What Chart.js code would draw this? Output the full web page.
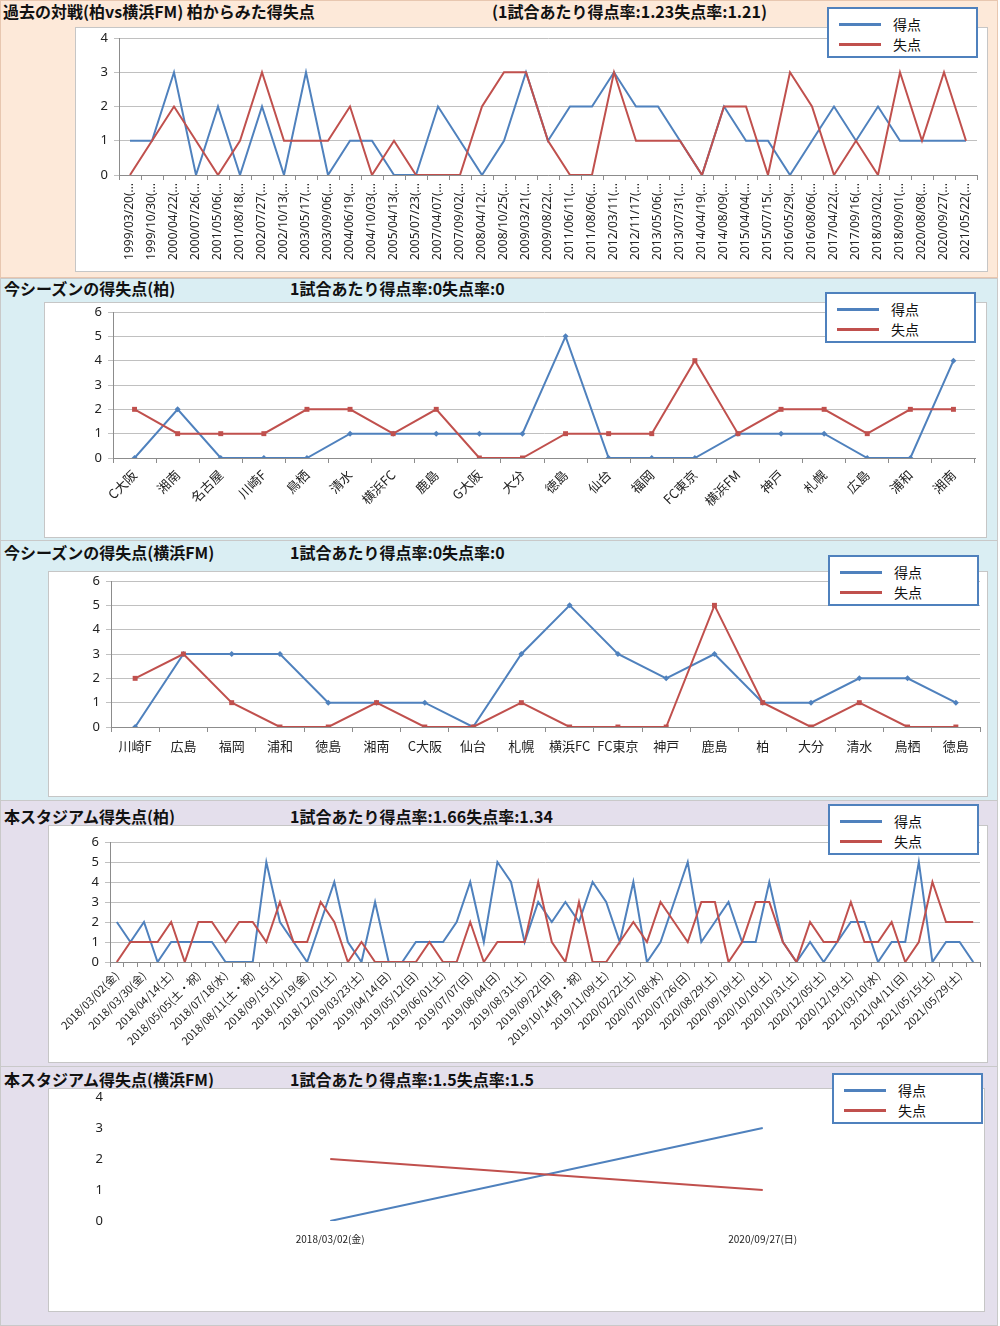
<!DOCTYPE html>
<html>
<head>
<meta charset="utf-8">
<script src="https://cdn.jsdelivr.net/npm/chart.js@4.4.1/dist/chart.umd.min.js"></script>
<style>
  html, body { margin: 0; padding: 0; }
  body { width: 1000px; height: 1326px; position: relative; overflow: hidden; background: #fff;
         font-family: "Noto Sans CJK JP", "Noto Sans", sans-serif; }
  .sec { position: absolute; left: 0; width: 998px; border: 1px solid #c9c9c9; box-sizing: border-box; }
  .ttl { position: absolute; font-weight: bold; font-size: 16px; color: #111; white-space: nowrap; line-height: 18px; }
  .box { position: absolute; background: #fff; border: 1px solid #c6c6c6; box-sizing: border-box; }
  canvas { position: absolute; }
  .legend { position: absolute; background: #fff; border: 2px solid #4f81bd; box-sizing: border-box; }
  .legend .sw { position: absolute; left: 10px; width: 42px; height: 3px; }
  .legend .tx { position: absolute; left: 64px; font-size: 14px; line-height: 16px; color: #111; }
</style>
</head>
<body>

<div class="sec" style="top:0;height:278px;background:#fde9d9;border-color:#e8c7b0"></div>
<div class="sec" style="top:278px;height:263px;background:#daeef3"></div>
<div class="sec" style="top:540px;height:261px;background:#daeef3"></div>
<div class="sec" style="top:800px;height:267px;background:#e4dfec"></div>
<div class="sec" style="top:1066px;height:260px;background:#e4dfec"></div>

<div class="ttl" style="left:3px;top:2px;">過去の対戦(柏vs横浜FM) 柏からみた得失点</div>
<div class="ttl" style="left:492px;top:2px;">(1試合あたり得点率:1.23失点率:1.21)</div>
<div class="ttl" style="left:4px;top:279px;">今シーズンの得失点(柏)</div>
<div class="ttl" style="left:290px;top:279px;">1試合あたり得点率:0失点率:0</div>
<div class="ttl" style="left:4px;top:543px;">今シーズンの得失点(横浜FM)</div>
<div class="ttl" style="left:290px;top:543px;">1試合あたり得点率:0失点率:0</div>
<div class="ttl" style="left:4px;top:807px;">本スタジアム得失点(柏)</div>
<div class="ttl" style="left:290px;top:807px;">1試合あたり得点率:1.66失点率:1.34</div>
<div class="ttl" style="left:4px;top:1070px;">本スタジアム得失点(横浜FM)</div>
<div class="ttl" style="left:290px;top:1070px;">1試合あたり得点率:1.5失点率:1.5</div>

<div class="box" style="left:75px;top:27px;width:913px;height:245px"></div>
<div class="box" style="left:44px;top:302px;width:943px;height:236px"></div>
<div class="box" style="left:48px;top:571px;width:940px;height:226px"></div>
<div class="box" style="left:48px;top:825px;width:940px;height:238px"></div>
<div class="box" style="left:48px;top:1088px;width:937px;height:224px"></div>

<canvas id="chart1"></canvas>
<canvas id="chart2"></canvas>
<canvas id="chart3"></canvas>
<canvas id="chart4"></canvas>
<canvas id="chart5"></canvas>

<div id="legends"></div>

<script>
// ---- data ----
const matchDates = ['1999/03/20','1999/10/30','2000/04/22','2000/07/26','2001/05/06','2001/08/18','2002/07/27',
	'2002/10/13','2003/05/17','2003/09/06','2004/06/19','2004/10/03','2005/04/13','2005/07/23','2007/04/07',
	'2007/09/02','2008/04/12','2008/10/25','2009/03/21','2009/08/22','2011/06/11','2011/08/06','2012/03/11',
	'2012/11/17','2013/05/06','2013/07/31','2014/04/19','2014/08/09','2015/04/04','2015/07/15','2016/05/29',
	'2016/08/06','2017/04/22','2017/09/16','2018/03/02','2018/09/01','2020/08/08','2020/09/27','2021/05/22'];
const matchGain = [1,1,3,0,2,0,2,0,3,0,1,1,0,0,2,1,0,1,3,1,2,2,3,2,2,1,0,2,1,1,0,1,2,1,2,1,1,1,1];
const matchLoss = [0,1,2,1,0,1,3,1,1,1,2,0,1,0,0,0,2,3,3,1,0,0,3,1,1,1,0,2,2,0,3,2,0,1,0,3,1,3,1];

const kashiwaOpp = ['C大阪','湘南','名古屋','川崎F','鳥栖','清水','横浜FC','鹿島','G大阪','大分',
	'徳島','仙台','福岡','FC東京','横浜FM','神戸','札幌','広島','浦和','湘南'];
const kashiwaGain = [0,2,0,0,0,1,1,1,1,1,5,0,0,0,1,1,1,0,0,4];
const kashiwaLoss = [2,1,1,1,2,2,1,2,0,0,1,1,1,4,1,2,2,1,2,2];

const fmOpp = ['川崎F','広島','福岡','浦和','徳島','湘南','C大阪','仙台','札幌','横浜FC',
	'FC東京','神戸','鹿島','柏','大分','清水','鳥栖','徳島'];
const fmGain = [0,3,3,3,1,1,1,0,3,5,3,2,3,1,1,2,2,1];
const fmLoss = [2,3,1,0,0,1,0,0,1,0,0,0,5,1,0,1,0,0];

// every other match is labelled on the axis
const stadiumTickLabels = ['2018/03/02(金)','2018/03/30(金)','2018/04/14(土)','2018/05/05(土・祝)','2018/07/18(水)',
	'2018/08/11(土・祝)','2018/09/15(土)','2018/10/19(金)','2018/12/01(土)','2019/03/23(土)','2019/04/14(日)',
	'2019/05/12(日)','2019/06/01(土)','2019/07/07(日)','2019/08/04(日)','2019/08/31(土)','2019/09/22(日)',
	'2019/10/14(月・祝)','2019/11/09(土)','2020/02/22(土)','2020/07/08(水)','2020/07/26(日)','2020/08/29(土)',
	'2020/09/19(土)','2020/10/10(土)','2020/10/31(土)','2020/12/05(土)','2020/12/19(土)','2021/03/10(水)',
	'2021/04/11(日)','2021/05/15(土)','2021/05/29(土)'];
const stadiumGain = [2,1,2,0,1,1,1,1,0,0,0,5,2,1,0,2,4,1,0,3,0,0,1,1,1,2,4,1,5,4,1,3,
	2,3,2,4,3,1,4,0,1,3,5,1,2,3,1,1,4,1,0,1,0,1,2,2,0,1,1,5,0,1,1,0];
const stadiumLoss = [0,1,1,1,2,0,2,2,1,2,2,1,3,1,1,3,2,0,1,0,0,0,0,1,0,0,2,0,1,1,1,4,
	1,0,3,0,0,1,2,1,3,2,1,3,3,0,1,3,3,1,0,2,1,1,3,1,1,2,0,1,4,2,2,2];

const fmStadiumDates = ['2018/03/02(金)','2020/09/27(日)'];
const fmStadiumGain = [0,3];
const fmStadiumLoss = [2,1];

const BLUE = '#4f81bd';
const RED = '#c0504d';
const GRID = '#c0c0c0';
const AXIS = '#8c8c8c';
const NUMFONT = "'Noto Sans', sans-serif";
const JPFONT = "'Noto Sans CJK JP', sans-serif";

// box = canvas position on the page, plot = wanted plot area (page coords)
function makeChart(id, box, plot, labels, gain, loss, o) {
	const cv = document.getElementById(id);
	cv.style.left = box.x + 'px';
	cv.style.top = box.y + 'px';
	cv.width = box.w;
	cv.height = box.h;
	const yWidth = plot.l - box.x;
	const xHeight = box.y + box.h - plot.b;

	const ds = (label, data, color, order, marker) => ({
		label: label,
		data: data,
		borderColor: color,
		backgroundColor: color,
		borderWidth: o.lineWidth || 2,
		pointRadius: marker ? marker.r : 0,
		pointStyle: marker ? marker.style : 'circle',
		pointBorderWidth: 0,
		tension: 0,
		order: order
	});

	return new Chart(cv, {
		type: 'line',
		data: {
			labels: labels,
			datasets: [
				ds('得点', gain, BLUE, 2, o.markers ? {r: 3, style: 'rectRot'} : null),
				ds('失点', loss, RED, 1, o.markers ? {r: 3.5, style: 'rect'} : null)
			]
		},
		options: {
			responsive: false,
			animation: false,
			devicePixelRatio: 1,
			layout: { padding: { top: plot.t - box.y, right: box.x + box.w - plot.r, left: 0, bottom: 0 } },
			plugins: { legend: { display: false }, tooltip: { enabled: false } },
			scales: {
				x: {
					offset: true,
					grid: { display: o.xTicks !== false, offset: true, drawOnChartArea: false, tickLength: 5, color: AXIS },
					border: { display: o.xTicks !== false, color: AXIS },
					ticks: {
						autoSkip: false,
						maxRotation: o.rot,
						minRotation: o.rot,
						padding: o.tickPad || 2,
						color: '#222',
						font: { family: o.xFont || JPFONT, size: o.xSize || 12 },
						callback: o.xCallback || function(v, i) { return labels[i]; }
					},
					afterFit: function(s) { s.height = xHeight; s.paddingLeft = 0; s.paddingRight = 0; }
				},
				y: {
					min: 0,
					max: o.yMax,
					ticks: { stepSize: 1, padding: 6, color: '#222', font: { family: NUMFONT, size: 13 } },
					grid: { display: o.yGrid !== false, color: GRID, tickLength: 5 },
					border: { display: o.yGrid !== false, color: AXIS },
					afterFit: function(s) { s.width = yWidth; s.paddingTop = 0; s.paddingBottom = 0; }
				}
			}
		}
	});
}

makeChart('chart1', {x: 76, y: 28, w: 911, h: 243}, {l: 119, t: 38, r: 977, b: 175},
	matchDates, matchGain, matchLoss,
	{yMax: 4, rot: 90, xSize: 12, xFont: NUMFONT, tickPad: 3,
	 xCallback: function(v, i) { return matchDates[i] + '(…'; }});

makeChart('chart2', {x: 45, y: 303, w: 941, h: 234}, {l: 113, t: 312, r: 975, b: 458},
	kashiwaOpp, kashiwaGain, kashiwaLoss,
	{yMax: 6, rot: 45, xSize: 13, markers: true, tickPad: 4});

makeChart('chart3', {x: 49, y: 572, w: 938, h: 224}, {l: 111, t: 581, r: 980, b: 727},
	fmOpp, fmGain, fmLoss,
	{yMax: 6, rot: 0, xSize: 13, markers: true, tickPad: 6});

makeChart('chart4', {x: 49, y: 826, w: 938, h: 236}, {l: 110, t: 842, r: 980, b: 962},
	stadiumGain.map((v, i) => i), stadiumGain, stadiumLoss,
	{yMax: 6, rot: 45, xSize: 11,
	 xCallback: function(v, i) { return i % 2 === 0 ? stadiumTickLabels[i / 2] : ''; }});

makeChart('chart5', {x: 49, y: 1089, w: 935, h: 222}, {l: 114, t: 1097, r: 979, b: 1221},
	fmStadiumDates, fmStadiumGain, fmStadiumLoss,
	{yMax: 4, rot: 0, xSize: 10, xTicks: false, yGrid: false, tickPad: 7});

// legends (Excel style boxes, placed like the original)
const legendPos = [[827, 7], [825, 292], [828, 555], [828, 804], [832, 1073]];
let html = '';
legendPos.forEach(function(p) {
	html += '<div class="legend" style="left:' + p[0] + 'px;top:' + p[1] + 'px;width:151px;height:51px">' +
		'<div class="sw" style="top:14px;background:' + BLUE + '"></div><div class="tx" style="top:7px">得点</div>' +
		'<div class="sw" style="top:34px;background:' + RED + '"></div><div class="tx" style="top:27px">失点</div>' +
		'</div>';
});
document.getElementById('legends').innerHTML = html;
</script>
</body>
</html>
